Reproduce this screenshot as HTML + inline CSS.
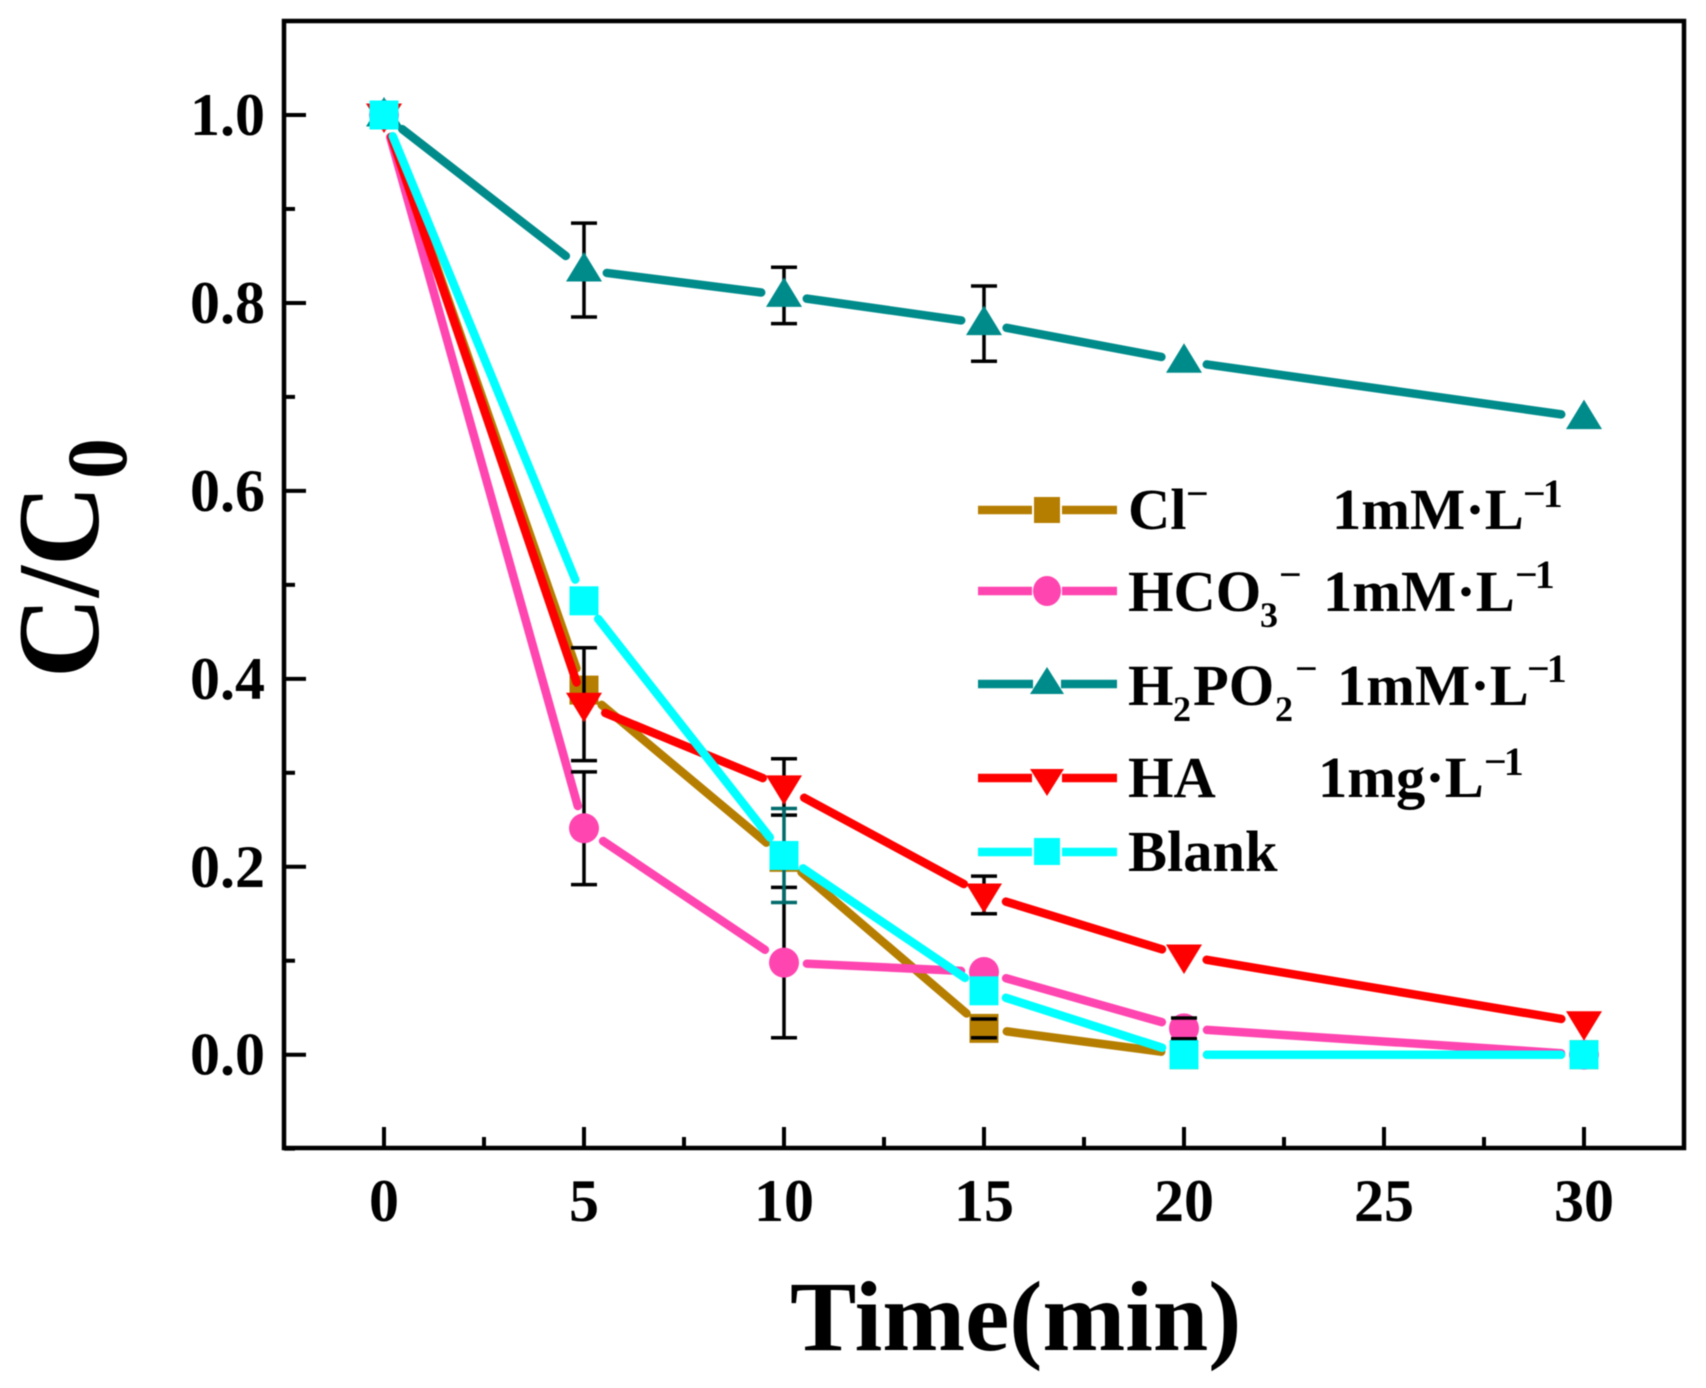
<!DOCTYPE html>
<html lang="en">
<head>
<meta charset="utf-8">
<title>C/C0 vs Time</title>
<style>
html,body{margin:0;padding:0;background:#fff;}
svg{display:block;filter:blur(0.5px);}
text{font-family:"Liberation Serif",serif;font-weight:bold;fill:#000;}
.leg{font-size:58.5px;}
.sup{font-size:40px;letter-spacing:-3px;}
.sub{font-size:36px;}
</style>
</head>
<body>
<svg id="chart" xmlns="http://www.w3.org/2000/svg" width="1706" height="1388" viewBox="0 0 1706 1388">
  <rect x="284" y="21" width="1400" height="1127" fill="none" stroke="#000" stroke-width="4.5"/>
  <g id="axes"></g>
  <g id="marks"></g>

  <text x="790" y="1350" font-size="99.5">Time(min)</text>
  <text transform="translate(98,678) rotate(-90) scale(1,1.04)" font-size="112">C/C<tspan font-size="82" dy="27" dx="6">0</tspan></text>

  <g>
    <g>
      <path d="M978 510H1032M1062 510H1117" stroke="#B57E00" stroke-width="8.5" fill="none"/>
      <rect x="1034" y="497" width="26" height="26" fill="#B57E00"/>
      <text class="leg" x="1128" y="529">Cl</text>
      <text class="sup" x="1186" y="507">−</text>
      <text class="leg" x="1332" y="529">1mM·L</text>
      <text class="sup" x="1523" y="507">−1</text>
    </g>
    <g>
      <path d="M978 591H1032M1062 591H1117" stroke="#FF45B0" stroke-width="8.5" fill="none"/>
      <ellipse cx="1047" cy="591" rx="14" ry="15" fill="#FF45B0"/>
      <text class="leg" x="1128" y="611">HCO</text>
      <text class="sub" x="1260" y="627">3</text>
      <text class="sup" x="1279" y="588">−</text>
      <text class="leg" x="1323" y="611">1mM·L</text>
      <text class="sup" x="1515" y="588">−1</text>
    </g>
    <g>
      <path d="M978 684H1033M1061 684H1117" stroke="#008B8B" stroke-width="8.5" fill="none"/>
      <polygon points="1047,667 1064,694 1030,694" fill="#008B8B"/>
      <text class="leg" x="1128" y="705">H</text>
      <text class="sub" x="1173" y="721">2</text>
      <text class="leg" x="1193" y="705">PO</text>
      <text class="sub" x="1275" y="721">2</text>
      <text class="sup" x="1295" y="682">−</text>
      <text class="leg" x="1337" y="705">1mM·L</text>
      <text class="sup" x="1527" y="682">−1</text>
    </g>
    <g>
      <path d="M978 778H1032M1062 778H1117" stroke="#FF0000" stroke-width="8.5" fill="none"/>
      <polygon points="1030,769 1064,769 1047,796" fill="#FF0000"/>
      <text class="leg" x="1128" y="797">HA</text>
      <text class="leg" x="1318" y="797">1mg·L</text>
      <text class="sup" x="1484" y="775">−1</text>
    </g>
    <g>
      <path d="M978 852H1032M1062 852H1117" stroke="#00FFFF" stroke-width="8.5" fill="none"/>
      <rect x="1034" y="838" width="26" height="27" fill="#00FFFF"/>
      <text class="leg" x="1128" y="871">Blank</text>
    </g>
  </g>
</svg>
<script>
const timePoints = [0, 5, 10, 15, 20, 30];
const clValues = [1.000, 0.388, 0.210, 0.028, 0.000, 0.000];
const hco3Values = [1.000, 0.241, 0.098, 0.088, 0.028, 0.000];
const h2po2Values = [1.000, 0.835, 0.808, 0.778, 0.738, 0.678];
const haValues = [1.000, 0.373, 0.285, 0.170, 0.105, 0.034];
const blankValues = [1.000, 0.483, 0.212, 0.068, 0.000, 0.000];
const clErrors = [0, 0, 0, 0.010, 0, 0];
const hco3Errors = [0, 0.060, 0.080, 0, 0.011, 0];
const h2po2Errors = [0, 0.050, 0.030, 0.040, 0, 0];
const haErrors = [0, 0.060, 0.030, 0.020, 0, 0];
const blankErrors = [0, 0, 0.050, 0, 0, 0];
const xTickLabels = ['0', '5', '10', '15', '20', '25', '30'];
const xMinorTicks = [2.5, 7.5, 12.5, 17.5, 22.5, 27.5];
const yTickLabels = ['0.0', '0.2', '0.4', '0.6', '0.8', '1.0'];
const yMinorTicks = [-0.1, 0.1, 0.3, 0.5, 0.7, 0.9, 1.1];

const NS = 'http://www.w3.org/2000/svg';
const axisLeft = 284, axisBottom = 1148;
function xScale(t) { return 384 + t * 40; }
function yScale(v) { return 1054.7 - v * 939.7; }

function make(parent, tag, attrs) {
  const el = document.createElementNS(NS, tag);
  for (const k in attrs) el.setAttribute(k, attrs[k]);
  parent.appendChild(el);
  return el;
}

const axes = document.getElementById('axes');
const marks = document.getElementById('marks');

xTickLabels.forEach(function (label) {
  const px = xScale(parseFloat(label));
  const tick = make(axes, 'line', { x1: px, x2: px, y1: axisBottom, y2: axisBottom - 21, stroke: '#000', 'stroke-width': 4 });
  
  
  const txt = make(axes, 'text', { x: px, y: 1221, 'text-anchor': 'middle', 'font-size': 60 });
  txt.textContent = label;
  
  
});
xMinorTicks.forEach(function (t) {
  const px = xScale(t);
  const tick = make(axes, 'line', { x1: px, x2: px, y1: axisBottom, y2: axisBottom - 11, stroke: '#000', 'stroke-width': 4 });
  
  
});
yTickLabels.forEach(function (label) {
  const py = yScale(parseFloat(label));
  const tick = make(axes, 'line', { x1: axisLeft, x2: axisLeft + 22, y1: py, y2: py, stroke: '#000', 'stroke-width': 4 });
  
  
  const txt = make(axes, 'text', { x: 265, y: py + 20, 'text-anchor': 'end', 'font-size': 60 });
  txt.textContent = label;
  
  
});
yMinorTicks.forEach(function (v) {
  const py = yScale(v);
  const tick = make(axes, 'line', { x1: axisLeft, x2: axisLeft + 11, y1: py, y2: py, stroke: '#000', 'stroke-width': 4 });
  
  
});

function drawMarker(g, shape, px, py, color) {
  if (shape === 'square') {
    make(g, 'rect', { x: px - 14.5, y: py - 14.5, width: 29, height: 29, fill: color });
  } else if (shape === 'circle') {
    make(g, 'ellipse', { cx: px, cy: py, rx: 15, ry: 15, fill: color });
  } else if (shape === 'up') {
    make(g, 'polygon', { points: [px, py - 18, px + 18, py + 11.5, px - 18, py + 11.5].join(' '), fill: color });
  } else {
    make(g, 'polygon', { points: [px - 18, py - 11.5, px + 18, py - 11.5, px, py + 18].join(' '), fill: color });
  }
}

function drawSeries(name, values, errors, color, shape, errColor) {
  const g = make(marks, 'g', {});
  
  
  const gap = 23;
  const pts = timePoints.map(function (t, i) { return [xScale(t), yScale(values[i])]; });
  for (let i = 0; i < pts.length - 1; i++) {
    const dx = pts[i + 1][0] - pts[i][0], dy = pts[i + 1][1] - pts[i][1];
    const len = Math.sqrt(dx * dx + dy * dy);
    const ux = dx / len, uy = dy / len;
    const seg = make(g, 'line', {
      x1: pts[i][0] + ux * gap, y1: pts[i][1] + uy * gap,
      x2: pts[i + 1][0] - ux * gap, y2: pts[i + 1][1] - uy * gap,
      stroke: color, 'stroke-width': 8.5, 'stroke-linecap': 'round'
    });
    
    
  }
  pts.forEach(function (p, i) {
    if (errors[i] > 0) {
      const stem = make(g, 'line', { x1: p[0], x2: p[0], y1: yScale(values[i] + errors[i]), y2: yScale(values[i] - errors[i]), stroke: errColor, 'stroke-width': 3.5 });
      
      
    }
  });
  pts.forEach(function (p, i) {
    drawMarker(g, shape, p[0], p[1], color);
    const m = g.lastChild;
    
    
  });
  pts.forEach(function (p, i) {
    if (errors[i] > 0) {
      [values[i] + errors[i], values[i] - errors[i]].forEach(function (v) {
        const cap = make(g, 'line', { x1: p[0] - 13, x2: p[0] + 13, y1: yScale(v), y2: yScale(v), stroke: errColor, 'stroke-width': 3.5 });
        
        
      });
    }
  });
}

drawSeries('cl', clValues, clErrors, '#B57E00', 'square', '#000');
drawSeries('hco3', hco3Values, hco3Errors, '#FF45B0', 'circle', '#000');
drawSeries('h2po2', h2po2Values, h2po2Errors, '#008B8B', 'up', '#000');
drawSeries('ha', haValues, haErrors, '#FF0000', 'down', '#000');
drawSeries('blank', blankValues, blankErrors, '#00FFFF', 'square', '#006B6B');
</script>
</body>
</html>
